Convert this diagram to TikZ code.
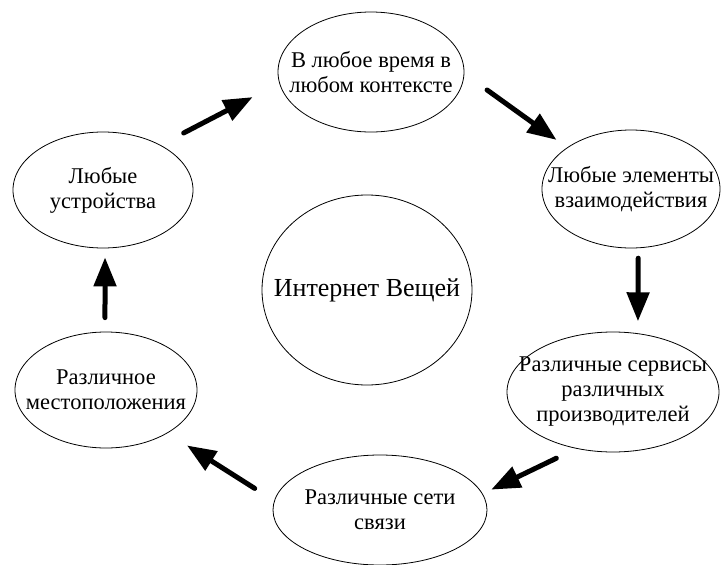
\documentclass[tikz,border=0pt]{standalone}
\usepackage{fontspec}
\setmainfont{Liberation Serif}
\newfontfamily\capfont{Liberation Serif}
\usetikzlibrary{
  shapes.geometric,
  arrows.meta
}

\begin{document}
\begin{tikzpicture}[
    x=1pt, y=-1pt,
    bubble/.style={
        ellipse,
        draw,
        line width=0.8pt,
        inner sep=0pt
      },
    caption/.style={
        align=center,
        inner sep=0pt,
        font=\capfont\fontsize{22.5}{25}\selectfont
      },
    flow/.style={
        line width=5pt,
        line cap=round,
        -{Triangle[length=29pt,width=22pt]}
      }
  ]
  \useasboundingbox (0,0) rectangle (721,565);

  % эллипсы по кругу
  \node[bubble, minimum width=186pt, minimum height=120pt,
    label={[caption]center:{В любое время в\\любом контексте}}]
    (any_time) at (371,72) {};
  \node[bubble, minimum width=178pt, minimum height=118pt,
    label={[caption]center:{Любые элементы\\взаимодействия}}]
    (any_element) at (631,189) {};
  \node[bubble, minimum width=212pt, minimum height=120pt,
    label={[caption]center:{Различные сервисы\\различных\\производителей}}]
    (services) at (613,392) {};
  \node[bubble, minimum width=214pt, minimum height=110pt,
    label={[caption]center:{Различные сети\\связи}}]
    (networks) at (380,510) {};
  \node[bubble, minimum width=182pt, minimum height=116pt,
    label={[caption]center:{Различное\\местоположения}}]
    (any_location) at (106,390) {};
  \node[bubble, minimum width=180pt, minimum height=116pt,
    label={[caption]center:{Любые\\устройства}}]
    (any_device) at (103,190) {};

  % центр
  \node[bubble, minimum width=210pt, minimum height=190pt,
    label={[caption, font=\capfont\fontsize{26}{30}\selectfont]center:{Интернет Вещей}}]
    (iot) at (367,290) {};

  % стрелки
  \draw[flow, shorten <=26pt, shorten >=30pt] (any_device.38) -- (any_time.187);
  \draw[flow, shorten <=28pt, shorten >=13pt] (any_time.359) -- (any_element.147);
  \draw[flow, shorten <=10pt, shorten >=12pt] (any_element.-83) -- (services.67);
  \draw[flow, shorten <=22pt, shorten >=9.5pt] (services.237) -- (networks.9);
  \draw[flow, shorten <=23pt, shorten >=23pt] (networks.175) -- (any_location.325);
  \draw[flow, shorten <=14pt, shorten >=9pt] (any_location.91) -- (any_device.-88);

\end{tikzpicture}
\end{document}
